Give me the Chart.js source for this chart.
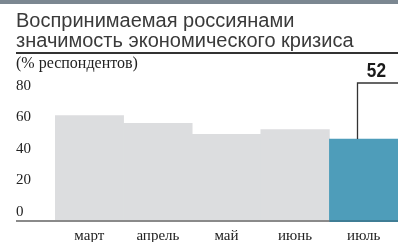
<!DOCTYPE html>
<html>
<head>
<meta charset="utf-8">
<script src="https://cdn.jsdelivr.net/npm/chart.js@4"></script>
<style>
  html, body { margin: 0; padding: 0; background: #fff; }
  #wrap { position: relative; width: 398px; height: 242px; overflow: hidden; }
  #band { position: absolute; left: 0; top: 0; width: 398px; height: 4px; background: #7b8791; }
  #title {
    position: absolute; left: 16px; top: 10px;
    font-family: "Liberation Sans", Arial, sans-serif; font-size: 20px; line-height: 20px;
    color: #3a3a3a;
  }
  #rule { position: absolute; left: 16px; top: 52px; width: 382px; height: 1.5px; background: #333; }
  #chartBox { position: absolute; left: 0; top: 0; width: 398px; height: 242px; }
</style>
</head>
<body>
<div id="wrap">
  <div id="chartBox"><canvas id="myChart"></canvas></div>
  <div id="band"></div>
  <div id="title">Воспринимаемая россиянами<br>значимость экономического кризиса</div>
  <div id="rule"></div>
</div>
<script>
const months = ["март", "апрель", "май", "июнь", "июль"];
const values = [67, 62, 55, 58, 52];
const yTicks = [0, 20, 40, 60, 80];
const unitLabel = "(% респондентов)";

const serif = "'Liberation Serif', 'Times New Roman', serif";

const extras = {
  id: "extras",
  afterDraw(chart) {
    const ctx = chart.ctx;
    const x = chart.scales.x;
    const y = chart.scales.y;
    const area = chart.chartArea;
    const last = values.length - 1;
    const barW = x.getPixelForValue(1) - x.getPixelForValue(0);
    const lastLeft = x.getPixelForValue(last) - barW / 2;

    ctx.save();
    // baseline
    ctx.fillStyle = "#8a8a8a";
    ctx.fillRect(16, area.bottom - 1, area.right - 16, 2);
    ctx.fillStyle = "#3f7d95";
    ctx.fillRect(lastLeft, area.bottom - 1, area.right - lastLeft, 2);

    // unit label
    ctx.fillStyle = "#222";
    ctx.font = "16px " + serif;
    ctx.textBaseline = "middle";
    ctx.textAlign = "left";
    ctx.fillText(unitLabel, 16, 64);

    // bracket for last value
    const bx = Math.round(lastLeft + 28) + 0.5;
    const top = y.getPixelForValue(values[last]);
    ctx.strokeStyle = "#333";
    ctx.lineWidth = 1.3;
    ctx.beginPath();
    ctx.moveTo(bx, top);
    ctx.lineTo(bx, 83);
    ctx.lineTo(area.right, 83);
    ctx.stroke();

    // condensed bold value
    ctx.translate(lastLeft + 47, 71);
    ctx.scale(0.82, 1);
    ctx.font = "bold 21px 'Liberation Sans', Arial, sans-serif";
    ctx.textAlign = "center";
    ctx.fillStyle = "#1a1a1a";
    ctx.fillText(String(values[last]), 0, 0);
    ctx.restore();
  }
};

const ctx = document.getElementById("myChart").getContext("2d");
const myChart = new Chart(ctx, {
  type: "bar",
  data: {
    labels: months,
    datasets: [{
      data: values,
      backgroundColor: values.map((v, i) => i === values.length - 1 ? "#4e9dba" : "#dcdddf"),
      borderWidth: 0,
      barPercentage: 1,
      categoryPercentage: 1
    }]
  },
  options: {
    responsive: true,
    maintainAspectRatio: false,
    animation: false,
    layout: { padding: { left: 16, top: 95, right: 0, bottom: 0 } },
    plugins: { legend: { display: false }, tooltip: { enabled: false } },
    scales: {
      x: {
        grid: { display: false, drawTicks: false },
        border: { display: false },
        ticks: { color: "#222", font: { family: serif, size: 15 }, padding: 6, maxRotation: 0 },
        afterFit: scale => { scale.height = 21; }
      },
      y: {
        min: 0,
        max: 80,
        afterBuildTicks: scale => { scale.ticks = yTicks.map(v => ({ value: v })); },
        grid: { display: false, drawTicks: false },
        border: { display: false },
        ticks: { color: "#222", font: { family: serif, size: 15 }, crossAlign: "far", labelOffset: -9, padding: 0 },
        afterFit: scale => { scale.width = 39; }
      }
    }
  },
  plugins: [extras]
});
</script>
</body>
</html>
